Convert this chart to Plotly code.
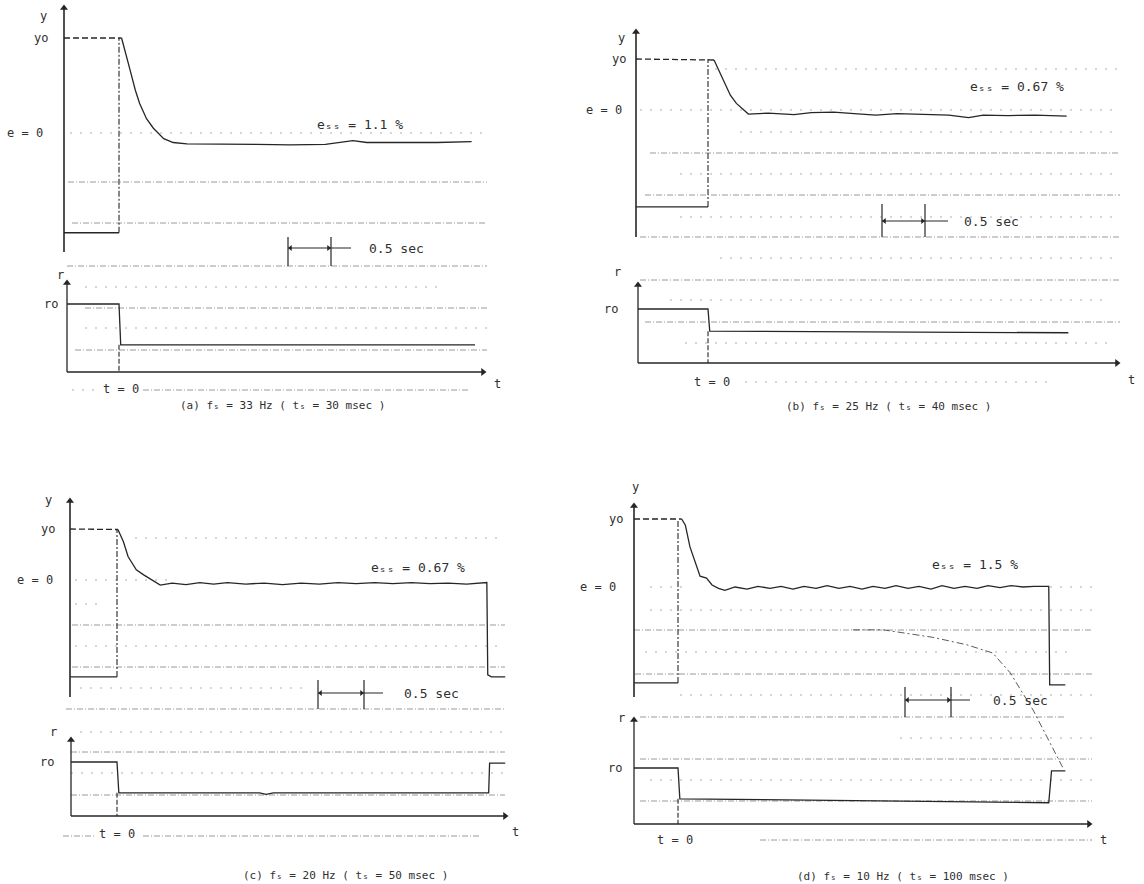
import plotly.graph_objects as go

W, H = 1144, 884

# ---------------- recorded values ----------------
PANEL_IDS = ["a", "b", "c", "d"]
FS_HZ = [33, 25, 20, 10]          # sampling frequency f_s
TS_MSEC = [30, 40, 50, 100]       # sampling period t_s
ESS_PCT = [1.1, 0.67, 0.67, 1.5]  # steady-state error e_ss
SCALE_SEC = 0.5                   # time scale bar

Y0 = 1.0   # initial output level (normalised, e = 0 at 0)
R0 = 1.0   # initial reference level (normalised)
Y_LOW = [-1.05, -1.90, -1.90, -1.41]  # lower trace level before t = 0

# output y(t) after the reference step at t = 0   (t in sec)
T_A = [0.03, 0.07, 0.13, 0.19, 0.24, 0.32, 0.40, 0.52, 0.63, 0.79, 1.20, 1.60,
       1.99, 2.40, 2.72, 2.88, 3.30, 3.70, 4.10]
Y_A = [1.0, 0.87, 0.66, 0.45, 0.31, 0.15, 0.05, -0.06, -0.10, -0.115, -0.115, -0.12,
       -0.125, -0.12, -0.08, -0.10, -0.10, -0.10, -0.09]

T_B = [0.07, 0.14, 0.20, 0.26, 0.33, 0.41, 0.47, 0.70, 1.00, 1.20, 1.46, 1.70,
       1.95, 2.20, 2.50, 2.80, 3.03, 3.20, 3.49, 3.80, 4.17]
Y_B = [0.98, 0.72, 0.49, 0.29, 0.13, 0.0, -0.08, -0.06, -0.09, -0.05, -0.04, -0.07,
       -0.10, -0.07, -0.09, -0.10, -0.15, -0.10, -0.11, -0.10, -0.12]

T_C = [0.01, 0.07, 0.12, 0.18, 0.21, 0.29, 0.38, 0.47, 0.60, 0.75, 0.90, 1.05,
       1.20, 1.40, 1.60, 1.80, 2.00, 2.20, 2.40, 2.60, 2.80, 3.00, 3.20, 3.40,
       3.60, 3.80, 4.02, 4.03, 4.07, 4.22]
Y_C = [0.99, 0.75, 0.46, 0.29, 0.20, 0.10, 0.0, -0.10, -0.06, -0.09, -0.05, -0.08,
       -0.05, -0.08, -0.06, -0.09, -0.06, -0.08, -0.05, -0.07, -0.05, -0.07, -0.05, -0.07,
       -0.06, -0.08, -0.05, -1.86, -1.90, -1.90]

T_D = [0.04, 0.08, 0.13, 0.18, 0.24, 0.31, 0.37, 0.44, 0.51, 0.62, 0.75, 0.87,
       1.00, 1.12, 1.25, 1.37, 1.50, 1.62, 1.75, 1.87, 2.00, 2.12, 2.25, 2.37,
       2.50, 2.62, 2.75, 2.87, 3.00, 3.12, 3.25, 3.37, 3.50, 3.62, 3.75, 3.87,
       4.03, 4.04, 4.08, 4.21]
Y_D = [1.0, 0.91, 0.59, 0.40, 0.16, 0.13, 0.03, -0.02, -0.05, 0.0, -0.03, 0.01,
       -0.02, 0.01, -0.03, 0.01, -0.02, 0.02, -0.02, 0.01, -0.03, 0.01, -0.02, 0.02,
       -0.02, 0.01, -0.03, 0.02, -0.02, 0.01, -0.02, 0.02, -0.01, 0.02, 0.0, 0.01,
       0.01, -1.44, -1.44, -1.44]

# reference r(t) from the step at t = 0 onward
RT_A = [0.0, 0.02, 4.14]
RV_A = [1.0, 0.40, 0.40]
RT_B = [0.0, 0.02, 2.00, 4.19]
RV_B = [1.0, 0.59, 0.58, 0.56]
RT_C = [0.0, 0.02, 1.55, 1.62, 1.70, 4.04, 4.05, 4.22]
RV_C = [1.0, 0.43, 0.43, 0.40, 0.43, 0.43, 0.98, 0.98]
RT_D = [0.0, 0.02, 1.00, 2.00, 3.00, 4.03, 4.06, 4.21]
RV_D = [1.0, 0.45, 0.43, 0.41, 0.39, 0.38, 0.95, 0.95]

# faint dash-dot trace in panel (d)
TX_D = [1.90, 2.23, 2.77, 3.14, 3.42, 3.61, 3.86, 4.18]
YX_D = [-0.63, -0.63, -0.74, -0.85, -0.97, -1.26, -1.81, -2.65]

RESP_T = [T_A, T_B, T_C, T_D]
RESP_Y = [Y_A, Y_B, Y_C, Y_D]
REF_T = [RT_A, RT_B, RT_C, RT_D]
REF_V = [RV_A, RV_B, RV_C, RV_D]

# ---------------- page geometry (pixels) ----------------
GEOM = {
    "a": dict(L=58, R=490, T=2, B=400, t0=119, pps=86, y0=38, e0=133, r0=304, rz=372,
              yaxis_x=64, yaxis_top=5, yaxis_bot=252, raxis_x=67, raxis_top=280, t_end=486,
              lab_y=(43, 16), lab_yo=(41, 38), lab_e0=(25, 133), lab_r=(60, 275),
              lab_ro=(51, 304), lab_t=(497, 384), lab_t0=(121, 389), ess=(360, 125),
              bar_left=288, bar_top=237, bar_bot=266, bar_line=248, bar_ext=20,
              bar_text=(396, 248), caption=(282, 406),
              grid=[(133, "s", 70, 487), (182, "d", 68, 487), (223, "d", 72, 487),
                    (266, "d", 67, 487), (287, "s", 85, 445), (308, "d", 85, 487),
                    (328, "s", 85, 487), (350, "d", 75, 487), (390, "s", 72, 97),
                    (390, "d", 143, 470)]),
    "b": dict(L=632, R=1124, T=20, B=400, t0=708, pps=86, y0=59, e0=110, r0=309, rz=363,
              yaxis_x=636, yaxis_top=29, yaxis_bot=237, raxis_x=638, raxis_top=282, t_end=1120,
              lab_y=(621, 38), lab_yo=(619, 60), lab_e0=(604, 110), lab_r=(617, 272),
              lab_ro=(611, 307), lab_t=(1131, 380), lab_t0=(712, 382), ess=(1017, 87),
              bar_left=882, bar_top=204, bar_bot=237, bar_line=221, bar_ext=23,
              bar_text=(992, 221), caption=(888, 407),
              grid=[(69, "s", 715, 1120), (110, "s", 640, 1120), (132, "s", 740, 1120),
                    (153, "d", 650, 1120), (174, "s", 680, 1120), (195, "d", 645, 1120),
                    (217, "s", 680, 1120), (237, "d", 640, 1120), (258, "s", 720, 1120),
                    (280, "d", 640, 1120), (300, "s", 670, 1110), (322, "d", 645, 1120),
                    (343, "s", 685, 1115), (382, "s", 745, 1050)]),
    "c": dict(L=62, R=512, T=480, B=850, t0=117, pps=92, y0=529, e0=580, r0=762, rz=816,
              yaxis_x=70, yaxis_top=498, yaxis_bot=697, raxis_x=71, raxis_top=737, t_end=508,
              lab_y=(48, 500), lab_yo=(48, 528), lab_e0=(35, 580), lab_r=(53, 732),
              lab_ro=(47, 763), lab_t=(515, 832), lab_t0=(117, 834), ess=(418, 567),
              bar_left=318, bar_top=680, bar_bot=709, bar_line=693, bar_ext=19,
              bar_text=(431, 693), caption=(345, 875),
              grid=[(538, "s", 135, 505), (580, "s", 75, 170), (604, "s", 75, 100),
                    (625, "d", 72, 505), (646, "s", 75, 505), (667, "d", 72, 505),
                    (688, "s", 80, 310), (709, "d", 66, 505), (732, "s", 80, 505),
                    (752, "d", 71, 505), (773, "s", 71, 505), (795, "d", 71, 505),
                    (836, "d", 63, 95), (836, "d", 143, 480)]),
    "d": dict(L=628, R=1098, T=480, B=850, t0=678, pps=92, y0=519, e0=587, r0=768, rz=824,
              yaxis_x=634, yaxis_top=503, yaxis_bot=697, raxis_x=634, raxis_top=717, t_end=1092,
              lab_y=(635, 487), lab_yo=(616, 517), lab_e0=(598, 587), lab_r=(621, 718),
              lab_ro=(615, 766), lab_t=(1103, 840), lab_t0=(675, 840), ess=(975, 564),
              bar_left=905, bar_top=687, bar_bot=717, bar_line=700, bar_ext=19,
              bar_text=(1020, 700), caption=(903, 876),
              grid=[(587, "s", 650, 690), (587, "s", 1050, 1092), (610, "s", 650, 1092),
                    (630, "d", 634, 1092), (652, "s", 645, 1075), (674, "d", 635, 1092),
                    (695, "s", 680, 1092), (717, "d", 640, 1065), (738, "s", 900, 1092),
                    (759, "d", 640, 1092), (780, "s", 650, 1092), (801, "d", 640, 1092),
                    (840, "d", 760, 1092)]),
}

INK = "#262626"
TEXT = "#303030"
FONT = "DejaVu Sans Mono"
GRID_STYLE = {
    "d": dict(color="#8e8e8e", width=0.9, dash="6px,2px,1px,2px"),
    "s": dict(color="#a4a4a4", width=0.9, dash="2px,8px"),
}
SUB_S = "\u209b"   # subscript s


def pxx(x):
    return x / W


def pxy(y):
    return 1 - y / H


fig = go.Figure()
layout = dict(width=W, height=H, margin=dict(l=0, r=0, t=0, b=0),
              paper_bgcolor="white", plot_bgcolor="rgba(0,0,0,0)", showlegend=False)
shapes, annotations = [], []


def text_at(x, y, s, size=12, xref="paper", yref="paper", xanchor="center"):
    annotations.append(dict(x=x, y=y, xref=xref, yref=yref, text=s, showarrow=False,
                            xanchor=xanchor, yanchor="middle",
                            font=dict(family=FONT, size=size, color=TEXT)))


for i, pid in enumerate(PANEL_IDS):
    k = i + 1
    g = GEOM[pid]
    xa = "x" if k == 1 else f"x{k}"
    ya = "y" if k == 1 else f"y{k}"
    ra = f"y{k + 4}"

    def t_of(p, g=g):
        return (p - g["t0"]) / g["pps"]

    def y_of(p, g=g):
        return (g["e0"] - p) / (g["e0"] - g["y0"])

    def r_of(p, g=g):
        return (g["rz"] - p) / (g["rz"] - g["r0"])

    layout["xaxis" if k == 1 else f"xaxis{k}"] = dict(
        domain=[pxx(g["L"]), pxx(g["R"])], range=[t_of(g["L"]), t_of(g["R"])],
        visible=False, anchor=ya, fixedrange=True)
    layout["yaxis" if k == 1 else f"yaxis{k}"] = dict(
        domain=[pxy(g["B"]), pxy(g["T"])], range=[y_of(g["B"]), y_of(g["T"])],
        visible=False, anchor=xa, fixedrange=True)
    layout[f"yaxis{k + 4}"] = dict(
        range=[r_of(g["B"]), r_of(g["T"])], visible=False, overlaying=ya, anchor=xa,
        fixedrange=True)

    def trace(xs, ys, yref, color=INK, width=1.3, dash="solid"):
        fig.add_trace(go.Scatter(x=xs, y=ys, xaxis=xa, yaxis=yref, mode="lines",
                                 line=dict(color=color, width=width, dash=dash),
                                 hoverinfo="skip", showlegend=False))

    def head(x, y, yref, symbol, size=7):
        fig.add_trace(go.Scatter(x=[x], y=[y], xaxis=xa, yaxis=yref, mode="markers",
                                 marker=dict(symbol=symbol, size=size, color=INK,
                                             line=dict(width=0)),
                                 hoverinfo="skip", showlegend=False))

    def seg(xref, yref, x0, y0, x1, y1, width=1.3):
        shapes.append(dict(type="line", xref=xref, yref=yref, x0=x0, y0=y0, x1=x1, y1=y1,
                           line=dict(color=INK, width=width)))

    t_ax_y = t_of(g["yaxis_x"])
    t_ax_r = t_of(g["raxis_x"])

    # graticule rows
    for row, kind, x0, x1 in g["grid"]:
        shapes.append(dict(type="line", xref="paper", yref="paper", layer="below",
                           x0=pxx(x0), x1=pxx(x1), y0=pxy(row), y1=pxy(row),
                           line=GRID_STYLE[kind]))

    # output y(t)
    trace([t_ax_y, RESP_T[i][0]], [Y0, RESP_Y[i][0]], ya, dash="6px,3px")
    trace(RESP_T[i], RESP_Y[i], ya)
    trace([t_ax_y, 0.0], [Y_LOW[i], Y_LOW[i]], ya)
    trace([0.0, 0.0], [Y_LOW[i], Y0], ya, width=1.1, dash="6px,2px,2px,2px")

    # reference r(t)
    trace([t_ax_r] + REF_T[i], [R0] + REF_V[i], ra)
    trace([0.0, 0.0], [REF_V[i][1], 0.0], ra, width=1.1, dash="5px,2px")

    if pid == "d":
        trace(TX_D, YX_D, ya, color="#5a5a5a", width=1.0, dash="7px,3px,2px,3px")

    # axes with arrowheads
    seg(xa, ya, t_ax_y, y_of(g["yaxis_bot"]), t_ax_y, y_of(g["yaxis_top"] + 3), width=1.6)
    head(t_ax_y, y_of(g["yaxis_top"] + 3), ya, "triangle-up")
    seg(xa, ra, t_ax_r, 0.0, t_ax_r, r_of(g["raxis_top"] + 3), width=1.3)
    head(t_ax_r, r_of(g["raxis_top"] + 3), ra, "triangle-up")
    t_tip = t_of(g["t_end"] - 3)
    seg(xa, ra, t_ax_r, 0.0, t_tip, 0.0, width=1.3)
    head(t_tip, 0.0, ra, "triangle-right")

    # 0.5 sec scale bar
    tl = t_of(g["bar_left"])
    tr = tl + SCALE_SEC
    yb, yt, yl = y_of(g["bar_bot"]), y_of(g["bar_top"]), y_of(g["bar_line"])
    for tx in (tl, tr):
        seg(xa, ya, tx, yb, tx, yt, width=1.2)
    seg(xa, ya, tl, yl, tr + g["bar_ext"] / g["pps"], yl, width=1.1)
    head(tl + 2.5 / g["pps"], yl, ya, "triangle-left", size=5)
    head(tr - 2.5 / g["pps"], yl, ya, "triangle-right", size=5)
    text_at(pxx(g["bar_text"][0]), pxy(g["bar_text"][1]), f"{SCALE_SEC} sec", size=13)

    # axis labels
    text_at(pxx(g["lab_y"][0]), pxy(g["lab_y"][1]), "y")
    text_at(pxx(g["lab_yo"][0]), Y0, "yo", yref=ya)
    text_at(pxx(g["lab_e0"][0]), 0.0, "e = 0", yref=ya)
    text_at(pxx(g["lab_r"][0]), pxy(g["lab_r"][1]), "r")
    text_at(pxx(g["lab_ro"][0]), R0, "ro", yref=ra)
    text_at(pxx(g["lab_t"][0]), pxy(g["lab_t"][1]), "t")
    text_at(pxx(g["lab_t0"][0]), pxy(g["lab_t0"][1]), "t = 0")
    text_at(pxx(g["ess"][0]), pxy(g["ess"][1]),
            f"e{SUB_S}{SUB_S} = {ESS_PCT[i]} %", size=13)

    # caption
    text_at(pxx(g["caption"][0]), pxy(g["caption"][1]),
            f"({pid}) f{SUB_S} = {FS_HZ[i]} Hz ( t{SUB_S} = {TS_MSEC[i]} msec )",
            size=11)

layout["shapes"] = shapes
layout["annotations"] = annotations
fig.update_layout(**layout)
fig.write_html("out.html")
